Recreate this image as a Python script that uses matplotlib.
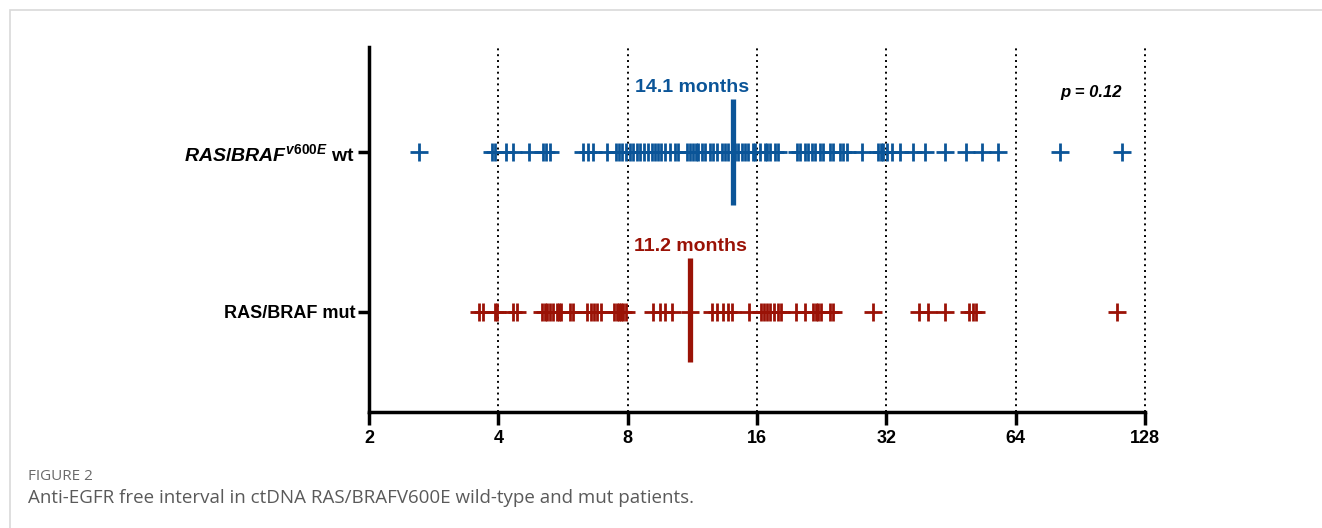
import matplotlib
matplotlib.use("Agg")
import matplotlib.pyplot as plt
from matplotlib.patches import Rectangle

plt.rcParams['font.family'] = ['Liberation Sans', 'DejaVu Sans']
plt.rcParams['mathtext.fontset'] = 'custom'
plt.rcParams['mathtext.rm'] = 'Liberation Sans:bold'
plt.rcParams['mathtext.it'] = 'Liberation Sans:italic:bold'
plt.rcParams['mathtext.bf'] = 'Liberation Sans:bold'

# anti-EGFR free interval (months) per patient
wt_months = [
    2.61, 3.87, 3.93, 4.17, 4.32, 4.72, 5.08, 5.17, 5.28, 6.30, 6.47, 6.65,
    7.16, 7.52, 7.64, 7.76, 7.93, 8.10, 8.24, 8.41, 8.55, 8.74, 8.92, 9.12,
    9.27, 9.42, 9.57, 9.78, 10.04, 10.31, 10.48, 11.00, 11.18, 11.36, 11.54,
    11.67, 11.92, 12.11, 12.45, 12.65, 12.92, 13.27, 13.49, 13.70, 14.00,
    14.23, 14.46, 14.77, 15.01, 15.25, 15.67, 15.84, 16.27, 16.71, 16.89,
    17.16, 17.63, 17.92, 19.84, 20.16, 20.71, 21.04, 21.50, 21.85, 22.44,
    22.80, 23.68, 24.06, 24.98, 25.39, 25.93, 28.11, 30.63, 31.12, 31.45,
    32.14, 33.01, 34.46, 36.94, 39.40, 43.86, 49.08, 53.48, 58.28, 81.26,
    113.26,
]
mut_months = [
    3.61, 3.68, 3.93, 3.97, 4.32, 4.42, 5.06, 5.14, 5.19, 5.28, 5.36, 5.48,
    5.54, 5.60, 5.88, 5.97, 6.44, 6.57, 6.68, 6.79, 6.94, 7.44, 7.56, 7.64,
    7.72, 7.81, 7.93, 9.17, 9.52, 9.78, 10.15, 11.18, 12.58, 12.92, 13.34,
    13.70, 14.00, 15.34, 16.36, 16.62, 16.89, 17.16, 17.54, 17.92, 18.21,
    19.73, 20.71, 21.61, 21.96, 22.20, 22.56, 23.68, 24.06, 29.81, 38.15,
    40.03, 43.86, 49.88, 50.96, 51.79, 110.27,
]
wt_median = 14.1
mut_median = 11.2
p_value = "0.12"

x_ticks = [2, 4, 8, 16, 32, 64, 128]
blue = '#0b5598'
red = '#9a1206'

fig = plt.figure(figsize=(13.22, 5.28), dpi=100)

# light frame around the figure panel
fig.patches.append(Rectangle((10 / 1322, -0.05), 1.2, (518 / 528) + 0.05,
                             transform=fig.transFigure, fill=False,
                             edgecolor='#d9d9d9', linewidth=1.2))

ax = fig.add_axes([369 / 1322, 1 - 412 / 528, 776 / 1322, 365 / 528])
ax.set_xscale('log', base=2)
ax.set_xlim(2, 128)
ax.set_ylim(-0.625, 1.656)

for v in x_ticks[1:]:
    ax.axvline(v, color='black', linestyle=(0, (1, 2)), linewidth=1.4,
               zorder=1, clip_on=False)

# one row of "+" per group
ax.plot(wt_months, [1] * len(wt_months), linestyle='none', marker='+',
        markersize=13, markeredgewidth=2, color=blue, zorder=3)
ax.plot(mut_months, [0] * len(mut_months), linestyle='none', marker='+',
        markersize=13, markeredgewidth=2, color=red, zorder=3)

# medians
ax.plot([wt_median, wt_median], [0.67, 1.33], color=blue, linewidth=3.8,
        solid_capstyle='butt', zorder=4)
ax.plot([mut_median, mut_median], [-0.31, 0.34], color=red, linewidth=3.8,
        solid_capstyle='butt', zorder=4)
ax.annotate(f"{wt_median} months", (wt_median, 1.33), xytext=(-30, 2),
            textcoords='offset points', ha='center', va='bottom',
            fontsize=14, fontweight='bold', color=blue)
ax.annotate(f"{mut_median} months", (mut_median, 0.34), xytext=(0, 2),
            textcoords='offset points', ha='center', va='bottom',
            fontsize=14, fontweight='bold', color=red)

ax.text(0.93, 0.874, f"p = {p_value}", transform=ax.transAxes, ha='center',
        va='center', fontsize=12, fontweight='bold', style='italic')

ax.set_xticks(x_ticks)
ax.set_xticklabels([str(t) for t in x_ticks])
ax.xaxis.set_minor_locator(matplotlib.ticker.NullLocator())
ax.set_yticks([0, 1])
ax.set_yticklabels(['RAS/BRAF mut', r'$\mathit{RAS/BRAF}^{\mathit{v600E}}$ wt'])

for lbl in ax.get_xticklabels() + ax.get_yticklabels():
    lbl.set_fontweight('bold')
ax.tick_params(axis='x', length=9, width=2.5, labelsize=13, pad=4)
ax.tick_params(axis='y', length=8, width=2.5, labelsize=13, pad=2)
ax.get_yticklabels()[1].set_fontsize(14)

for side in ('top', 'right'):
    ax.spines[side].set_visible(False)
for side in ('left', 'bottom'):
    ax.spines[side].set_linewidth(2.5)

fig.text(28 / 1322, 1 - 476 / 528, "FIGURE 2", fontsize=11, color='#6a6a6a',
         family='Open Sans', va='center')
fig.text(28 / 1322, 1 - 498 / 528,
         "Anti-EGFR free interval in ctDNA RAS/BRAFV600E wild-type and mut patients.",
         fontsize=13.5, color='#5a5a5a', family='Open Sans', va='center')

fig.savefig('out.png', dpi=100)
